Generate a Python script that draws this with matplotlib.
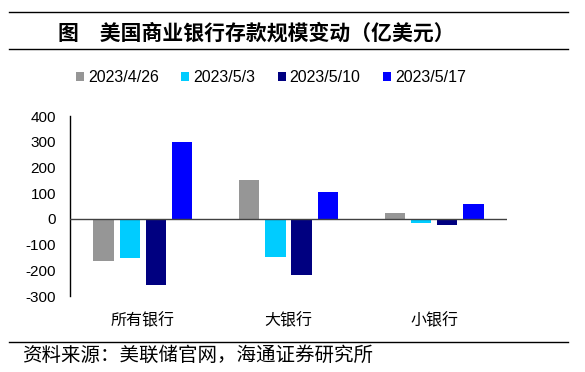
import matplotlib
matplotlib.use("Agg")
import matplotlib.pyplot as plt
from matplotlib.lines import Line2D
from matplotlib.patches import Patch
import numpy as np

CJK = ['Noto Sans CJK SC', 'DejaVu Sans']

# deposit change by bank group, 100m USD
categories = ["所有银行", "大银行", "小银行"]
series_names = ["2023/4/26", "2023/5/3", "2023/5/10", "2023/5/17"]
vals_0426 = [-163, 150, 22]
vals_0503 = [-151, -147, -17]
vals_0510 = [-259, -219, -24]
vals_0517 = [297, 103, 59]
yticks = [-300, -200, -100, 0, 100, 200, 300, 400]

series_values = [vals_0426, vals_0503, vals_0510, vals_0517]
colors = ["#969696", "#00CCFF", "#000080", "#0000FF"]

fig = plt.figure(figsize=(5.85, 3.72), dpi=100)
ax = fig.add_axes([70 / 585, 1 - 296 / 372, 437 / 585, 180 / 372])

x = np.arange(len(categories))
width = 0.14
step = 0.18
for i, (vals, c) in enumerate(zip(series_values, colors)):
    ax.bar(x + (i - 1.5) * step, vals, width, color=c, zorder=2)

ax.axhline(0, color='#404040', linewidth=1, zorder=3)
ax.set_xlim(-0.5, 2.5)
ax.set_ylim(-300, 400)
ax.set_yticks(yticks)
ax.set_yticklabels([str(t) for t in yticks], fontsize=11, family='Liberation Sans')
ax.set_xticks(x)
ax.set_xticklabels(categories, fontsize=11.5, family=CJK)
ax.tick_params(axis='y', length=0, pad=10)
ax.tick_params(axis='x', length=0, pad=12)
for s in ['top', 'right', 'bottom']:
    ax.spines[s].set_visible(False)
ax.spines['left'].set_color('black')
ax.spines['left'].set_linewidth(1)

handles = [Patch(facecolor=c, edgecolor='none') for c in colors]
fig.legend(handles, series_names, loc='center', bbox_to_anchor=(271 / 585, 1 - 78 / 372),
           ncol=4, frameon=False, handlelength=0.5, handleheight=0.5,
           handletextpad=0.25, columnspacing=1.4,
           prop={'family': 'Liberation Sans', 'size': 11.5})

# header / footer rules
for yy in [12, 49, 342]:
    fig.add_artist(Line2D([9 / 585, 568 / 585], [1 - yy / 372, 1 - yy / 372],
                          color='black', linewidth=1))

fig.text(256 / 585, 1 - 33 / 372, "图　美国商业银行存款规模变动（亿美元）",
         ha='center', va='center', fontsize=15, fontweight='bold', family=CJK)
fig.text(22 / 585, 1 - 355 / 372, "资料来源：美联储官网，海通证券研究所",
         ha='left', va='center', fontsize=14, family=CJK)

plt.savefig("out.png", dpi=100)
plt.close()
